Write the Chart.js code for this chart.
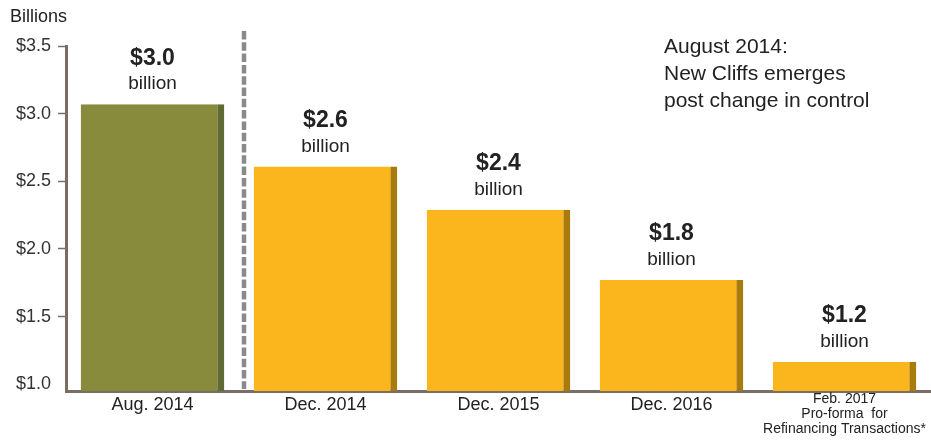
<!DOCTYPE html>
<html>
<head>
<meta charset="utf-8">
<script src="https://cdn.jsdelivr.net/npm/chart.js@4"></script>
<style>
  html, body { margin: 0; padding: 0; background: #fff; }
  #wrap { width: 931px; height: 447px; }
</style>
</head>
<body>
<div id="wrap"><canvas id="debtChart" width="931" height="447"></canvas></div>
<script>
// chart data
const categories = [
  "Aug. 2014",
  "Dec. 2014",
  "Dec. 2015",
  "Dec. 2016",
  ["Feb. 2017", "Pro-forma  for", "Refinancing Transactions*"]
];
const debtValues = [3.07, 2.61, 2.29, 1.77, 1.165];
const valueLabels = ["$3.0", "$2.6", "$2.4", "$1.8", "$1.2"];
const barColors = ["#888a3c", "#fbb61d", "#fbb61d", "#fbb61d", "#fbb61d"];
const shadowColors = ["#5f6a34", "#a97b0c", "#a97b0c", "#a97b0c", "#a97b0c"];
const yTicks = [1.0, 1.5, 2.0, 2.5, 3.0, 3.5];
const noteLines = ["August 2014:", "New Cliffs emerges", "post change in control"];

const FONT = "'Liberation Sans', Arial, sans-serif";
const AXIS_COLOR = "#7a6e64";
const TEXT_COLOR = "#222";

// draws "$x.x billion" above bars, the dashed divider and the side notes
const annotations = {
  id: "annotations",
  afterDatasetsDraw(chart) {
    const { ctx, chartArea, scales } = chart;
    const meta = chart.getDatasetMeta(0);
    ctx.save();
    ctx.fillStyle = TEXT_COLOR;
    ctx.textAlign = "center";
    ctx.textBaseline = "middle";
    meta.data.forEach((bar, i) => {
      ctx.font = "bold 23px " + FONT;
      ctx.fillText(valueLabels[i], bar.x, bar.y - 46);
      ctx.font = "19px " + FONT;
      ctx.fillText("billion", bar.x, bar.y - 20);
    });

    // divider between Aug. 2014 and the rest
    const divX = (scales.x.getPixelForValue(0) + scales.x.getPixelForValue(1)) / 2 + 5;
    ctx.strokeStyle = "#8a8a8a";
    ctx.lineWidth = 4.5;
    ctx.lineCap = "butt";
    ctx.setLineDash([8.5, 2.8]);
    ctx.beginPath();
    ctx.moveTo(divX, chartArea.top - 15);
    ctx.lineTo(divX, chartArea.bottom - 2);
    ctx.stroke();
    ctx.setLineDash([]);

    // "Billions" unit label
    ctx.textAlign = "left";
    ctx.font = "18px " + FONT;
    ctx.fillText("Billions", 10, 17);

    // note at top right
    ctx.font = "21px " + FONT;
    noteLines.forEach((line, i) => {
      ctx.fillText(line, 664, 47 + i * 27);
    });
    ctx.restore();
  }
};

const ctx = document.getElementById("debtChart").getContext("2d");
new Chart(ctx, {
  type: "bar",
  data: {
    labels: categories,
    datasets: [
      {
        data: debtValues,
        backgroundColor: barColors,
        borderColor: shadowColors,
        borderWidth: { top: 0, left: 0, bottom: 0, right: 7 },
        borderSkipped: false,
        barPercentage: 0.83,
        categoryPercentage: 1.0,
        base: 0.95
      }
    ]
  },
  options: {
    responsive: false,
    animation: false,
    devicePixelRatio: 1,
    layout: { padding: { top: 46, right: 0, left: 0, bottom: 0 } },
    plugins: {
      legend: { display: false },
      tooltip: { enabled: false }
    },
    scales: {
      x: {
        grid: { display: false, drawTicks: false, tickLength: 0 },
        border: { display: true, color: AXIS_COLOR, width: 3 },
        ticks: {
          color: TEXT_COLOR,
          padding: 0,
          maxRotation: 0,
          autoSkip: false,
          font: (c) =>
            c.index === 4
              ? { family: FONT, size: 14, lineHeight: 1.1 }
              : { family: FONT, size: 18, lineHeight: 1.52 }
        },
        afterFit: (s) => { s.height = 56; }
      },
      y: {
        min: 0.95,
        max: 3.5,
        afterBuildTicks: (s) => { s.ticks = yTicks.map((v) => ({ value: v })); },
        grid: {
          drawOnChartArea: false,
          drawTicks: true,
          tickLength: 8,
          tickWidth: 1.5,
          color: (c) => (c.tick && c.tick.value === 1.0 ? "rgba(0,0,0,0)" : AXIS_COLOR)
        },
        border: { display: true, color: AXIS_COLOR, width: 3 },
        ticks: {
          color: "#333",
          padding: 7,
          font: { family: FONT, size: 18 },
          callback: (v) => "$" + Number(v).toFixed(1)
        },
        afterFit: (s) => { s.width = 66; }
      }
    }
  },
  plugins: [annotations]
});
</script>
</body>
</html>
